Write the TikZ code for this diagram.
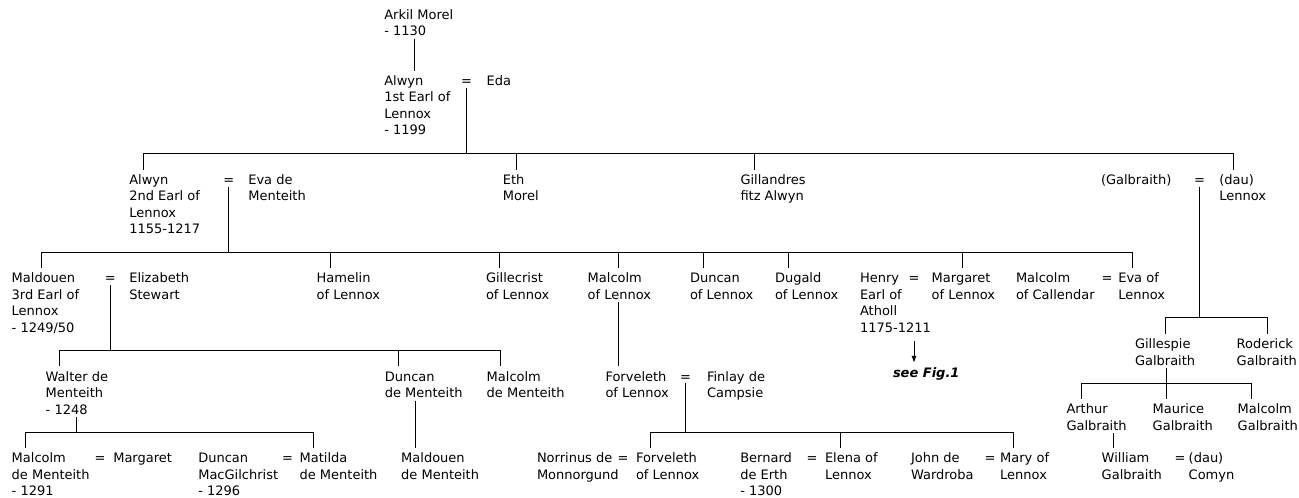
\documentclass[tikz,border=0pt]{standalone}
\usepackage{fontspec}
\setmainfont{DejaVu Sans}
\usetikzlibrary{calc,arrows.meta}

% one family member: lines stacked, baseline of the node = first line
\newcommand\person[1]{\begin{tabular}[t]{@{}l@{}}#1\end{tabular}}
% attachment points for the connectors
\newcommand\hangtop[2]{\coordinate (#1-t) at ($(#1.north west)+(#2,-3.5)$)}
\newcommand\hangbot[2]{\coordinate (#1-b) at ($(#1.south west)+(#2,-2)$)}
\newcommand\wedbot[1]{\coordinate (#1-b) at ($(#1.base)+(0,2)$)}
\newcommand\dropline[2]{\draw[link] (#1-t) -- (#1-t |- #2);}
\newcommand\busline[3]{\draw[link] (#1-t) -- (#1-t |- #3) -- (#2-t |- #3) -- (#2-t);}
\newcommand\stemline[2]{\draw[link] (#1-b) -- (#1-b |- #2);}

\begin{document}
\begin{tikzpicture}[x=1pt,y=-1pt,
  every node/.style={inner sep=0pt,outer sep=0pt,font=\fontsize{13}{16.4}\selectfont},
  who/.style={anchor=base west},
  wed/.style={anchor=base},
  link/.style={line width=1pt,black}]
\useasboundingbox (0,0) rectangle (1299,498);

% ---- generation 0 and 1
\node[who] (arkil)  at (384.3,19.5) {\person{Arkil Morel\\- 1130}};
\node[who] (alwyn1) at (384.3,85.5) {\person{Alwyn\\1st Earl of\\Lennox\\- 1199}};
\node[wed] (eq1)    at (466.5,85.5) {=};
\node[who] (eda)    at (486.7,85.5) {\person{Eda}};

% ---- generation 2
\node[who] (alwyn2)     at (129.3,184.5) {\person{Alwyn\\2nd Earl of\\Lennox\\1155-1217}};
\node[wed] (eq2)        at (228.8,184.5) {=};
\node[who] (eva1)       at (248.3,184.5) {\person{Eva de\\Menteith}};
\node[who] (eth)        at (502.8,184.5) {\person{Eth\\Morel}};
\node[who] (gillandres) at (740.5,184.5) {\person{Gillandres\\fitz Alwyn}};
\node[who] (galb)       at (1101,184.5)  {\person{(Galbraith)}};
\node[wed] (eq3)        at (1199.5,184.5) {=};
\node[who] (dau1)       at (1219.3,184.5) {\person{(dau)\\Lennox}};

% ---- generation 3
\node[who] (maldouen)   at (11.7,282.8)  {\person{Maldouen\\3rd Earl of\\Lennox\\- 1249/50}};
\node[wed] (eq4)        at (110.2,282.8) {=};
\node[who] (elizabeth)  at (129.3,282.8) {\person{Elizabeth\\Stewart}};
\node[who] (hamelin)    at (316.7,282.8) {\person{Hamelin\\of Lennox}};
\node[who] (gillecrist) at (486,282.8)   {\person{Gillecrist\\of Lennox}};
\node[who] (malcolmL)   at (587.7,282.8) {\person{Malcolm\\of Lennox}};
\node[who] (duncanL)    at (690,282.8)   {\person{Duncan\\of Lennox}};
\node[who] (dugald)     at (775,282.8)   {\person{Dugald\\of Lennox}};
\node[who] (henry)      at (860,282.8)   {\person{Henry\\Earl of\\Atholl\\1175-1211}};
\node[wed] (eq5)        at (914,282.8)   {=};
\node[who] (margaretL)  at (931.7,282.8) {\person{Margaret\\of Lennox}};
\node[who] (malcolmC)   at (1016,282.8)  {\person{Malcolm\\of Callendar}};
\node[wed] (eq6)        at (1107,282.8)  {=};
\node[who] (evaL)       at (1118.3,282.8) {\person{Eva of\\Lennox}};
\node[who] (gillespie)  at (1135,348.8)  {\person{Gillespie\\Galbraith}};
\node[who] (roderick)   at (1236.7,348.8) {\person{Roderick\\Galbraith}};

% ---- generation 4
\node[who] (walter)     at (45.7,381.2)  {\person{Walter de\\Menteith\\- 1248}};
\node[who] (duncanM)    at (384.8,381.2) {\person{Duncan\\de Menteith}};
\node[who] (malcolmM)   at (486.7,381.2) {\person{Malcolm\\de Menteith}};
\node[who] (forveleth1) at (605.5,381.2) {\person{Forveleth\\of Lennox}};
\node[wed] (eq7)        at (685.5,381.2) {=};
\node[who] (finlay)     at (707,381.2)   {\person{Finlay de\\Campsie}};
\node[who] (seefig)     at (893,377)     {\bfseries\itshape see Fig.1};
\node[who] (arthur)     at (1066.5,413.8) {\person{Arthur\\Galbraith}};
\node[who] (maurice)    at (1152.7,413.8) {\person{Maurice\\Galbraith}};
\node[who] (malcolmG)   at (1237.7,413.8) {\person{Malcolm\\Galbraith}};

% ---- generation 5
\node[who] (malcolmB)   at (11.7,462.8)  {\person{Malcolm\\de Menteith\\- 1291}};
\node[wed] (eq8)        at (100,462.8)   {=};
\node[who] (margaretB)  at (113.3,462.8) {\person{Margaret}};
\node[who] (duncanMac)  at (198.3,462.8) {\person{Duncan\\MacGilchrist\\- 1296}};
\node[wed] (eq9)        at (287.5,462.8) {=};
\node[who] (matilda)    at (299.6,462.8) {\person{Matilda\\de Menteith}};
\node[who] (maldouenM)  at (401.2,462.8) {\person{Maldouen\\de Menteith}};
\node[who] (norrinus)   at (537,462.8)   {\person{Norrinus de\\Monnorgund}};
\node[wed] (eq10)       at (623,462.8)   {=};
\node[who] (forveleth2) at (636,462.8)   {\person{Forveleth\\of Lennox}};
\node[who] (bernard)    at (740.3,462.8) {\person{Bernard\\de Erth\\- 1300}};
\node[wed] (eq11)       at (812,462.8)   {=};
\node[who] (elena)      at (825,462.8)   {\person{Elena of\\Lennox}};
\node[who] (john)       at (911,462.8)   {\person{John de\\Wardroba}};
\node[wed] (eq12)       at (990,462.8)   {=};
\node[who] (mary)       at (1000.2,462.8) {\person{Mary of\\Lennox}};
\node[who] (william)    at (1101.7,462.8) {\person{William\\Galbraith}};
\node[wed] (eq13)       at (1180,462.8)  {=};
\node[who] (dau2)       at (1188.7,462.8) {\person{(dau)\\Comyn}};

% ---- levels of the sibling bars
\coordinate (bus1) at (0,153);
\coordinate (bus2) at (0,252);
\coordinate (bus3) at (0,317.7);
\coordinate (bus4) at (0,350);
\coordinate (bus5) at (0,432.3);
\coordinate (bus6) at (0,432.3);
\coordinate (bus7) at (0,383.3);

% ---- attachment points
\hangbot{arkil}{30.4}; \hangtop{alwyn1}{30.4};
\hangtop{alwyn2}{14}; \hangtop{eth}{14}; \hangtop{gillandres}{14}; \hangtop{dau1}{14};
\hangtop{maldouen}{30}; \hangtop{hamelin}{13.6}; \hangtop{gillecrist}{13.3};
\hangtop{malcolmL}{31}; \hangtop{duncanL}{13.7}; \hangtop{dugald}{13.3};
\hangtop{margaretL}{30.3}; \hangtop{evaL}{14.4};
\hangtop{gillespie}{30.7}; \hangtop{roderick}{31};
\hangtop{walter}{13.3}; \hangtop{duncanM}{13.5}; \hangtop{malcolmM}{13.3};
\hangtop{forveleth1}{13.2};
\hangtop{malcolmB}{13.3}; \hangtop{matilda}{13.4}; \hangtop{maldouenM}{14.1};
\hangtop{forveleth2}{14}; \hangtop{elena}{15}; \hangtop{mary}{13.2};
\hangtop{arthur}{15}; \hangtop{maurice}{13.3}; \hangtop{malcolmG}{13.3};
\hangtop{william}{12};
\hangbot{malcolmL}{31}; \hangbot{duncanM}{30.5}; \hangbot{walter}{30.3};
\hangbot{gillespie}{31}; \hangbot{arthur}{46.8};
\wedbot{eq1}; \wedbot{eq2}; \wedbot{eq3}; \wedbot{eq4}; \wedbot{eq7};

% ---- descent lines
\draw[link] (arkil-b) -- (alwyn1-t);

\stemline{eq1}{bus1}
\busline{alwyn2}{dau1}{bus1}
\dropline{eth}{bus1}
\dropline{gillandres}{bus1}

\stemline{eq2}{bus2}
\busline{maldouen}{evaL}{bus2}
\dropline{hamelin}{bus2}
\dropline{gillecrist}{bus2}
\dropline{malcolmL}{bus2}
\dropline{duncanL}{bus2}
\dropline{dugald}{bus2}
\dropline{margaretL}{bus2}

\stemline{eq3}{bus3}
\busline{gillespie}{roderick}{bus3}

\stemline{eq4}{bus4}
\busline{walter}{malcolmM}{bus4}
\dropline{duncanM}{bus4}

\stemline{walter}{bus5}
\busline{malcolmB}{matilda}{bus5}

\draw[link] (malcolmL-b) -- (malcolmL-b |- forveleth1-t);
\draw[link] (duncanM-b) -- (duncanM-b |- maldouenM-t);

\stemline{eq7}{bus6}
\busline{forveleth2}{mary}{bus6}
\dropline{elena}{bus6}

\stemline{gillespie}{bus7}
\busline{arthur}{malcolmG}{bus7}
\dropline{maurice}{bus7}
\draw[link] (arthur-b) -- (arthur-b |- william-t);

% ---- pointer to the other chart
\coordinate (henry-a) at ($(henry.south west)+(54,4)$);
\draw[link,-{Latex[length=7pt,width=5pt]}] (henry-a) -- ++(0,22);
\end{tikzpicture}
\end{document}
